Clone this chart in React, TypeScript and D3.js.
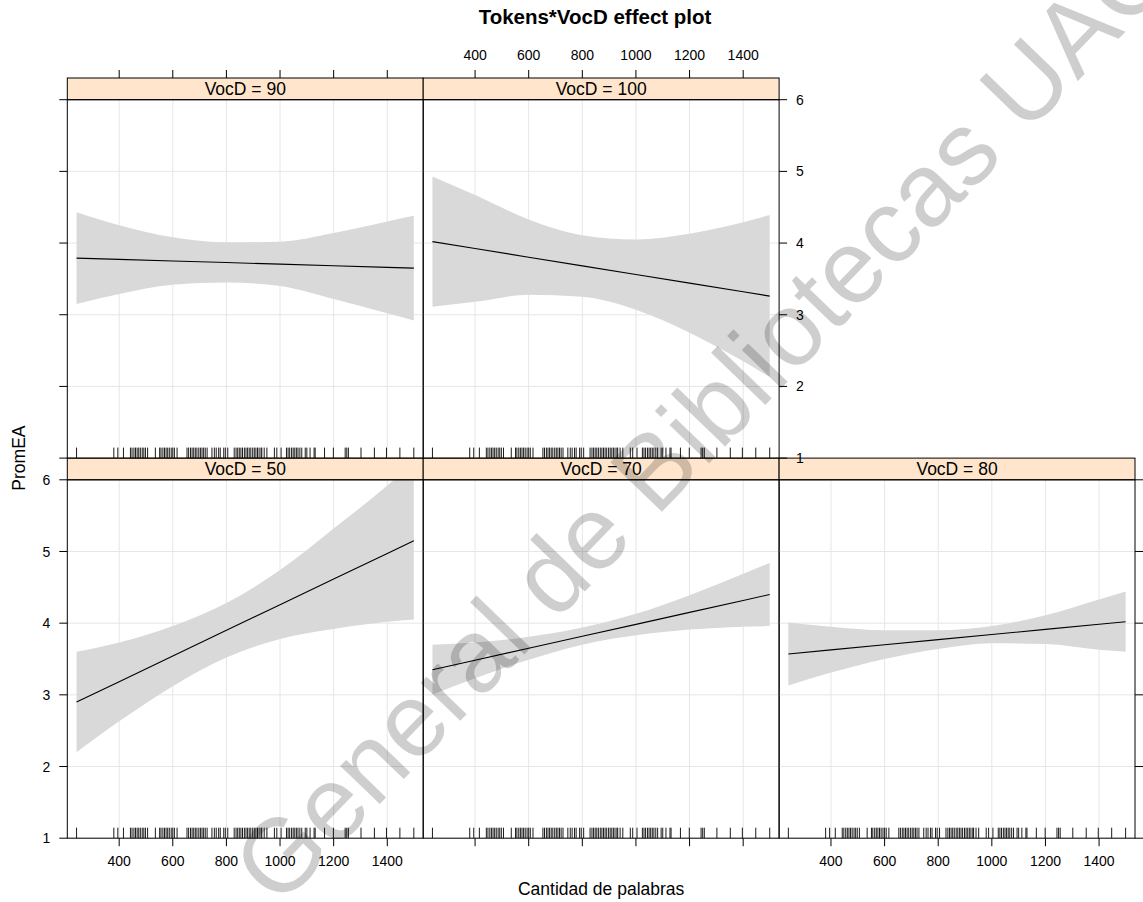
import React from "react";
import * as d3 from "d3";

// ---------- data ----------
const vocdLevels = [50, 70, 80, 90, 100];
const xTickValues = [400, 600, 800, 1000, 1200, 1400];
const yTickValues = [1, 2, 3, 4, 5, 6];
const tokensGrid = [241, 400, 600, 800, 1000, 1200, 1400, 1499];

const fit50 = [2.9, 3.184, 3.542, 3.9, 4.257, 4.615, 4.973, 5.15];
const upper50 = [3.6, 3.73, 3.96, 4.28, 4.74, 5.32, 5.92, 6.25];
const lower50 = [2.2, 2.63, 3.12, 3.52, 3.78, 3.92, 4.02, 4.05];

const fit70 = [3.35, 3.483, 3.65, 3.817, 3.983, 4.15, 4.317, 4.4];
const upper70 = [3.7, 3.73, 3.81, 3.94, 4.13, 4.39, 4.69, 4.84];
const lower70 = [3.0, 3.23, 3.49, 3.7, 3.83, 3.91, 3.95, 3.96];

const fit80 = [3.57, 3.627, 3.698, 3.77, 3.841, 3.913, 3.984, 4.02];
const upper80 = [4.01, 3.95, 3.9, 3.9, 3.96, 4.11, 4.33, 4.44];
const lower80 = [3.13, 3.31, 3.5, 3.64, 3.72, 3.71, 3.63, 3.6];

const fit90 = [3.79, 3.772, 3.75, 3.728, 3.706, 3.683, 3.661, 3.65];
const upper90 = [4.43, 4.25, 4.08, 4.01, 4.02, 4.14, 4.3, 4.38];
const lower90 = [3.15, 3.29, 3.42, 3.45, 3.4, 3.22, 3.02, 2.92];

const fit100 = [4.02, 3.924, 3.803, 3.682, 3.562, 3.441, 3.32, 3.26];
const upper100 = [4.93, 4.67, 4.33, 4.11, 4.05, 4.13, 4.29, 4.39];
const lower100 = [3.11, 3.18, 3.28, 3.25, 3.07, 2.75, 2.35, 2.13];

const tokensRug = [
  241, 380, 395, 416, 442, 448, 455, 461, 467, 473, 479, 486, 492, 498, 506,
  535, 551, 556, 563, 569, 575, 581, 587, 594, 600, 606, 616, 653, 659, 666,
  672, 678, 684, 690, 697, 703, 709, 715, 721, 728, 746, 755, 762, 771, 777,
  790, 796, 805, 829, 836, 842, 848, 854, 860, 867, 873, 879, 885, 891, 898,
  904, 910, 916, 922, 929, 932, 941, 951, 979, 988, 1004, 1024, 1030, 1036,
  1043, 1049, 1055, 1061, 1067, 1074, 1081, 1094, 1100, 1112, 1127, 1131,
  1166, 1199, 1243, 1249, 1255, 1302, 1352, 1397, 1447, 1499,
];

const fits: Record<number, number[]> = { 50: fit50, 70: fit70, 80: fit80, 90: fit90, 100: fit100 };
const uppers: Record<number, number[]> = { 50: upper50, 70: upper70, 80: upper80, 90: upper90, 100: upper100 };
const lowers: Record<number, number[]> = { 50: lower50, 70: lower70, 80: lower80, 90: lower90, 100: lower100 };

const titleText = "Tokens*VocD effect plot";
const xLabel = "Cantidad de palabras";
const yLabel = "PromEA";
const watermark = "General de Bibliotecas UAC";

// ---------- layout ----------
const W = 1143;
const H = 902;
const left0 = 67.3;
const panelW = 355.9;
const stripTop0 = 78;
const stripH = 21.7;
const panelH = 358.4;
const xDomain = [206.5, 1534];
const font = "'Liberation Sans', Arial, Helvetica, sans-serif";
const tickLen = 8;
const rugLen = 10.5;

// level -> [row, col]
const placement: Record<number, [number, number]> = {
  90: [0, 0],
  100: [0, 1],
  50: [1, 0],
  70: [1, 1],
  80: [1, 2],
};

function Panel({ level }: { level: number }) {
  const [row, col] = placement[level];
  const x0 = left0 + col * panelW;
  const sTop = stripTop0 + row * (stripH + panelH);
  const pTop = sTop + stripH;
  const pBot = pTop + panelH;
  const x = d3.scaleLinear().domain(xDomain).range([x0, x0 + panelW]);
  const y = d3.scaleLinear().domain([1, 6]).range([pBot, pTop]);
  const idx = d3.range(tokensGrid.length);
  const area = d3
    .area<number>()
    .x((i) => x(tokensGrid[i]))
    .y0((i) => y(lowers[level][i]))
    .y1((i) => y(uppers[level][i]))
    .curve(d3.curveMonotoneX);
  const line = d3
    .line<number>()
    .x((i) => x(tokensGrid[i]))
    .y((i) => y(fits[level][i]));
  const clipId = `clip-${level}`;
  return (
    <g>
      <defs>
        <clipPath id={clipId}>
          <rect x={x0} y={pTop} width={panelW} height={panelH} />
        </clipPath>
      </defs>
      <g clipPath={`url(#${clipId})`}>
        {xTickValues.map((t) => (
          <line key={"gx" + t} x1={x(t)} x2={x(t)} y1={pTop} y2={pBot} stroke="#e6e6e6" strokeWidth={1} />
        ))}
        {yTickValues.map((t) => (
          <line key={"gy" + t} x1={x0} x2={x0 + panelW} y1={y(t)} y2={y(t)} stroke="#e6e6e6" strokeWidth={1} />
        ))}
        <path d={area(idx) || ""} fill="#d9d9d9" stroke="none" />
        <path d={line(idx) || ""} fill="none" stroke="#000" strokeWidth={1.1} />
        {tokensRug.map((t, i) => (
          <line key={"r" + i} x1={x(t)} x2={x(t)} y1={pBot} y2={pBot - rugLen} stroke="#000" strokeWidth={0.9} />
        ))}
      </g>
      <rect x={x0} y={sTop} width={panelW} height={stripH} fill="#ffe5cc" stroke="#000" strokeWidth={1} />
      <text
        x={x0 + panelW / 2}
        y={sTop + stripH / 2}
        dy="0.36em"
        textAnchor="middle"
        fontFamily={font}
        fontSize={17.5}
        fill="#000"
      >
        {`VocD = ${level}`}
      </text>
      <rect x={x0} y={pTop} width={panelW} height={panelH} fill="none" stroke="#000" strokeWidth={1} />
    </g>
  );
}

function XAxis({ row, col, side, labels }: { row: number; col: number; side: "top" | "bottom"; labels: boolean }) {
  const x0 = left0 + col * panelW;
  const x = d3.scaleLinear().domain(xDomain).range([x0, x0 + panelW]);
  const sTop = stripTop0 + row * (stripH + panelH);
  const yEdge = side === "top" ? sTop : sTop + stripH + panelH;
  const dir = side === "top" ? -1 : 1;
  return (
    <g>
      {xTickValues.map((t) => (
        <g key={t}>
          <line x1={x(t)} x2={x(t)} y1={yEdge} y2={yEdge + dir * tickLen} stroke="#000" strokeWidth={1} />
          {labels && (
            <text
              x={x(t)}
              y={side === "top" ? yEdge - 18 : yEdge + 28}
              textAnchor="middle"
              fontFamily={font}
              fontSize={14}
              fill="#000"
            >
              {t}
            </text>
          )}
        </g>
      ))}
    </g>
  );
}

function YAxis({ row, col, side, labels }: { row: number; col: number; side: "left" | "right"; labels: boolean }) {
  const x0 = left0 + col * panelW;
  const pTop = stripTop0 + row * (stripH + panelH) + stripH;
  const y = d3.scaleLinear().domain([1, 6]).range([pTop + panelH, pTop]);
  const xEdge = side === "left" ? x0 : x0 + panelW;
  const dir = side === "left" ? -1 : 1;
  return (
    <g>
      {yTickValues.map((t) => (
        <g key={t}>
          <line x1={xEdge} x2={xEdge + dir * tickLen} y1={y(t)} y2={y(t)} stroke="#000" strokeWidth={1} />
          {labels && (
            <text
              x={xEdge + dir * 17}
              y={y(t)}
              dy="0.36em"
              textAnchor={side === "left" ? "end" : "start"}
              fontFamily={font}
              fontSize={14}
              fill="#000"
            >
              {t}
            </text>
          )}
        </g>
      ))}
    </g>
  );
}

export default function App() {
  const totalBottom = stripTop0 + 2 * (stripH + panelH);
  return (
    <svg
      width={W}
      height={H}
      viewBox={`0 0 ${W} ${H}`}
      style={{ position: "absolute", left: 0, top: 0, background: "#fff" }}
    >
      <rect x={0} y={0} width={W} height={H} fill="#fff" />
      <text x={595} y={24} textAnchor="middle" fontFamily={font} fontWeight="bold" fontSize={20.5} fill="#000">
        {titleText}
      </text>
      {vocdLevels.map((lv) => (
        <Panel key={lv} level={lv} />
      ))}
      {/* axes */}
      <XAxis row={0} col={0} side="top" labels={false} />
      <XAxis row={0} col={1} side="top" labels={true} />
      <XAxis row={1} col={0} side="bottom" labels={true} />
      <XAxis row={1} col={1} side="bottom" labels={false} />
      <XAxis row={1} col={2} side="bottom" labels={true} />
      <YAxis row={0} col={0} side="left" labels={false} />
      <YAxis row={1} col={0} side="left" labels={true} />
      <YAxis row={0} col={1} side="right" labels={true} />
      <YAxis row={1} col={2} side="right" labels={false} />
      <text
        x={left0 + (3 * panelW) / 2}
        y={895}
        textAnchor="middle"
        fontFamily={font}
        fontSize={17.5}
        fill="#000"
      >
        {xLabel}
      </text>
      <text
        transform={`translate(25, ${(stripTop0 + totalBottom) / 2}) rotate(-90)`}
        textAnchor="middle"
        fontFamily={font}
        fontSize={17.5}
        fill="#000"
      >
        {yLabel}
      </text>
      <text
        transform="translate(702, 418) rotate(-46)"
        textAnchor="middle"
        dy="0.35em"
        fontFamily={font}
        fontSize={104}
        fill="#000"
        opacity={0.19}
      >
        {watermark}
      </text>
    </svg>
  );
}
